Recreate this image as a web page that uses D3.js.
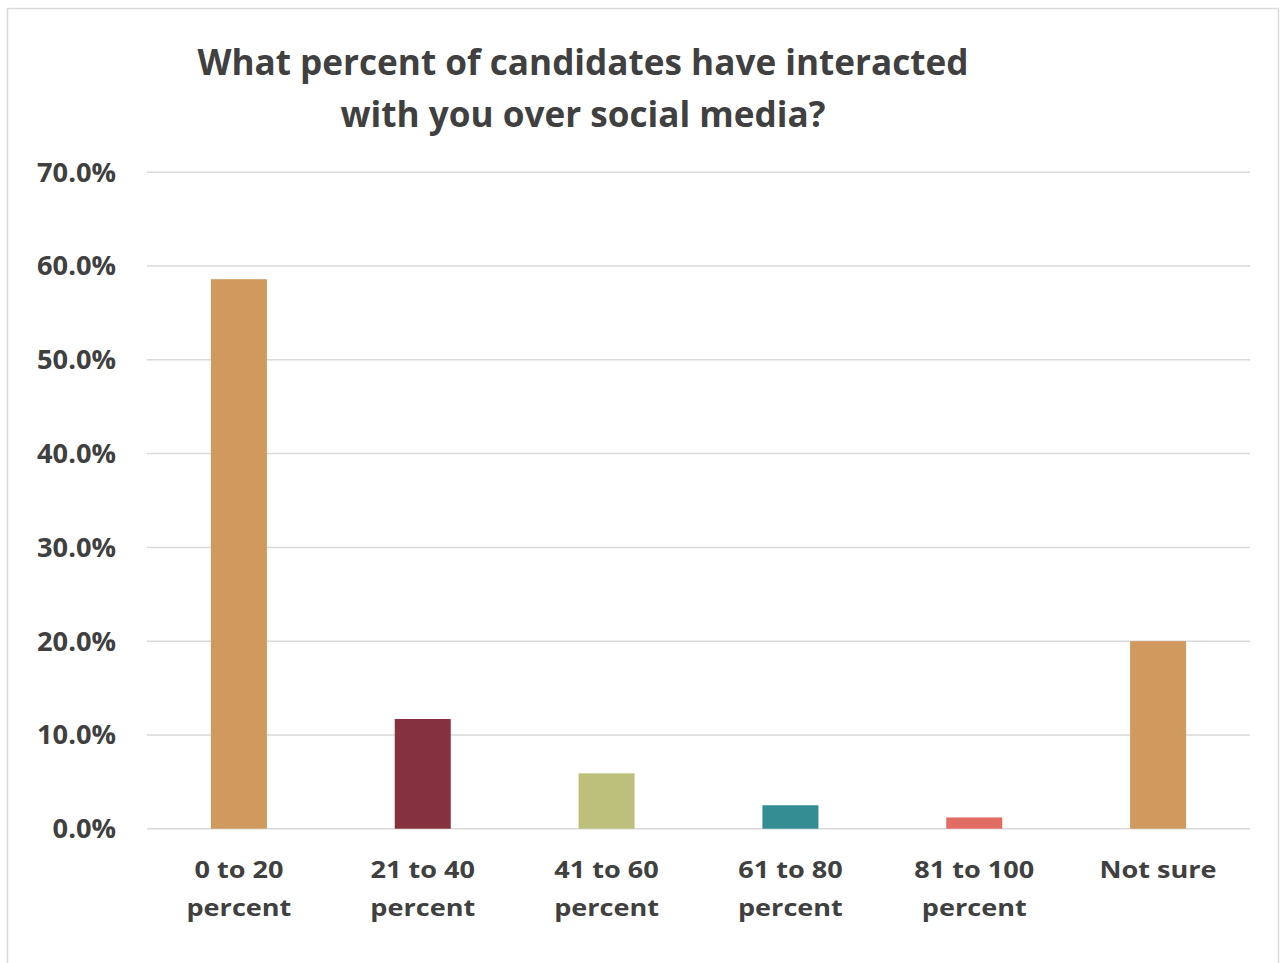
<!DOCTYPE html>
<html>
<head>
<meta charset="utf-8">
<script src="https://cdn.jsdelivr.net/npm/d3@7"></script>
<style>
  html, body { margin: 0; padding: 0; background: #ffffff; }
  svg { display: block; }
  text { font-family: "Open Sans", "DejaVu Sans", sans-serif; fill: #404040; }
</style>
</head>
<body>
<svg id="chart" width="1280" height="963"></svg>
<script>
// Survey answers: share of candidates who interacted over social media
const categories = [["0 to 20", "percent"], ["21 to 40", "percent"], ["41 to 60", "percent"],
                    ["61 to 80", "percent"], ["81 to 100", "percent"], ["Not sure"]];
const shares = [0.586, 0.117, 0.059, 0.025, 0.012, 0.200];
const barColors = ["#D0995E", "#85323E", "#BCC07A", "#338D93", "#E06C64", "#D0995E"];
const yTicks = [0, 0.1, 0.2, 0.3, 0.4, 0.5, 0.6, 0.7];
const titleLines = ["What percent of candidates have interacted", "with you over social media?"];

const svg = d3.select("#chart");

// Chart frame
svg.append("rect")
  .attr("x", 7.5).attr("y", 8.5)
  .attr("width", 1271).attr("height", 962)
  .attr("fill", "#ffffff")
  .attr("stroke", "#d9d9d9").attr("stroke-width", 1.5);

const plot = { left: 147, right: 1250, top: 172.3, bottom: 828.7 };

const y = d3.scaleLinear().domain([0, 0.7]).range([plot.bottom, plot.top]);
const pi = 1 - 56 / ((plot.right - plot.left) / categories.length);
const x = d3.scaleBand()
  .domain(d3.range(categories.length))
  .range([plot.left, plot.right])
  .paddingInner(pi)
  .paddingOuter(pi / 2);

// squeeze text horizontally so that a reference string reaches a given width
function fitWidth(sel, factor) {
  sel.each(function () {
    const w = this.getComputedTextLength();
    d3.select(this).attr("textLength", w * factor).attr("lengthAdjust", "spacingAndGlyphs");
  });
}

// Gridlines
svg.append("g")
  .selectAll("line")
  .data(yTicks)
  .join("line")
  .attr("x1", plot.left).attr("x2", plot.right)
  .attr("y1", d => y(d)).attr("y2", d => y(d))
  .attr("stroke", "#d9d9d9").attr("stroke-width", 1.5);

// Y axis labels
const yAxis = d3.axisLeft(y).tickValues(yTicks).tickFormat(d3.format(".1%")).tickSize(0).tickPadding(0);
const gy = svg.append("g").attr("transform", "translate(116,0)").call(yAxis);
gy.select(".domain").remove();
gy.selectAll("text")
  .attr("font-size", 26).attr("font-weight", 700)
  .attr("fill", "#404040")
  .attr("font-family", "'Open Sans', sans-serif")
  .attr("dy", "0.34em");
{
  const ref = gy.selectAll("text").filter(d => d === 0.7).node().getComputedTextLength();
  fitWidth(gy.selectAll("text"), 79 / ref);
}

// Bars
svg.append("g")
  .selectAll("rect")
  .data(shares)
  .join("rect")
  .attr("x", (d, i) => x(i))
  .attr("width", x.bandwidth())
  .attr("y", d => y(d))
  .attr("height", d => y(0) - y(d))
  .attr("fill", (d, i) => barColors[i]);

// Category labels (two lines each)
const catSize = 22.5;
const labels = svg.append("g")
  .selectAll("text")
  .data(categories)
  .join("text")
  .attr("text-anchor", "middle")
  .attr("font-size", catSize).attr("font-weight", 700);
labels.selectAll("tspan")
  .data((d, i) => d.map((t, k) => ({ t, k, i })))
  .join("tspan")
  .attr("x", d => x(d.i) + x.bandwidth() / 2)
  .attr("y", d => plot.bottom + 49.5 + d.k * 38)
  .text(d => d.t);
{
  const probe = svg.append("text").attr("font-size", catSize).attr("font-weight", 700).text("0 to 20");
  const f = 89 / probe.node().getComputedTextLength();
  probe.remove();
  labels.selectAll("tspan").each(function () {
    const w = this.getComputedTextLength();
    d3.select(this).attr("textLength", w * f).attr("lengthAdjust", "spacingAndGlyphs");
  });
}

// Title
const title = svg.append("g")
  .selectAll("text")
  .data(titleLines)
  .join("text")
  .attr("x", 583)
  .attr("y", (d, i) => 75 + i * 52)
  .attr("text-anchor", "middle")
  .attr("font-size", 35).attr("font-weight", 700)
  .text(d => d);
{
  const f = 771 / title.nodes()[0].getComputedTextLength();
  fitWidth(title, f);
}
</script>
</body>
</html>
